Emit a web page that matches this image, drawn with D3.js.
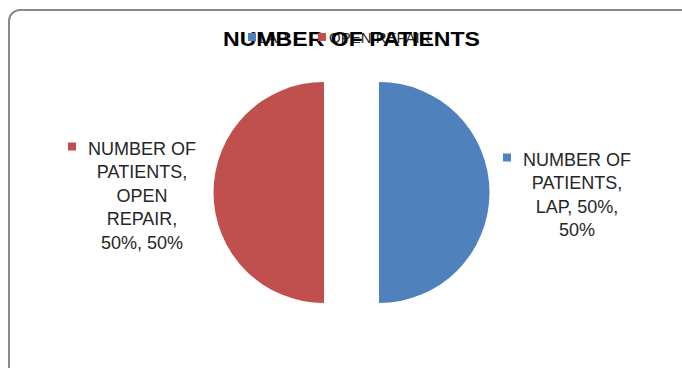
<!DOCTYPE html>
<html><head><meta charset="utf-8">
<script src="https://cdn.jsdelivr.net/npm/d3@7"></script>
<style>body{margin:0;background:#fff}svg{display:block}text{font-family:"Liberation Sans",Arial,sans-serif}</style>
</head><body>
<svg id="c" width="682" height="368"></svg>
<script>
const categories = ["LAP", "OPEN REPAIR"];
const values = [50, 50];
const seriesName = "NUMBER OF PATIENTS";
const colors = ["#4F81BD", "#C0504D"];
const labelLines = [
  ["NUMBER OF", "PATIENTS,", "LAP, 50%,", "50%"],
  ["NUMBER OF", "PATIENTS,", "OPEN", "REPAIR,", "50%, 50%"]
];

const svg = d3.select("#c");
svg.append("rect").attr("x", 9).attr("y", 10).attr("width", 685).attr("height", 370)
  .attr("rx", 11).attr("fill", "#fff").attr("stroke", "#8a8a8a").attr("stroke-width", 2);

const cx = 351.5, cy = 192.5, r = 110.5, explode = 27.5;
const pie = d3.pie().sort(null).value(d => d)(values);
const arc = d3.arc().innerRadius(0).outerRadius(r);
const g = svg.append("g").attr("transform", `translate(${cx},${cy})`);
g.selectAll("path").data(pie).join("path")
  .attr("d", arc)
  .attr("fill", (d, i) => colors[i])
  .attr("transform", d => {
    const a = (d.startAngle + d.endAngle) / 2;
    return `translate(${Math.sin(a) * explode},${-Math.cos(a) * explode})`;
  });

// data labels
const labelPos = [[cx + 225.5, cy - 27], [cx - 209.5, cy - 38]];
const lh = 23.5;
labelPos.forEach((p, i) => {
  const lg = svg.append("g");
  labelLines[i].forEach((t, j) => {
    lg.append("text").attr("x", p[0]).attr("y", p[1] + j * lh)
      .attr("text-anchor", "middle").attr("font-size", 18).attr("fill", "#262626").text(t);
  });
  const w = lg.select("text").node().getComputedTextLength();
  lg.append("rect").attr("x", p[0] - w / 2 - 20).attr("y", p[1] - 12)
    .attr("width", 8).attr("height", 8).attr("fill", colors[i]);
});

// legend text (overlapping the title)
const legX = [248, 318];
categories.forEach((c, i) => {
  svg.append("text").attr("x", legX[i] + 11).attr("y", 43).attr("font-size", 15).attr("fill", "#262626").text(c);
});

svg.append("text").attr("x", cx).attr("y", 46).attr("text-anchor", "middle")
  .attr("font-size", 21).attr("font-weight", "bold").attr("fill", "#000")
  .attr("textLength", 257).attr("lengthAdjust", "spacingAndGlyphs").text(seriesName);

// legend keys drawn on top of the title
categories.forEach((c, i) => {
  svg.append("rect").attr("x", legX[i]).attr("y", 33).attr("width", 8).attr("height", 8).attr("fill", colors[i]);
});
</script>
</body></html>
